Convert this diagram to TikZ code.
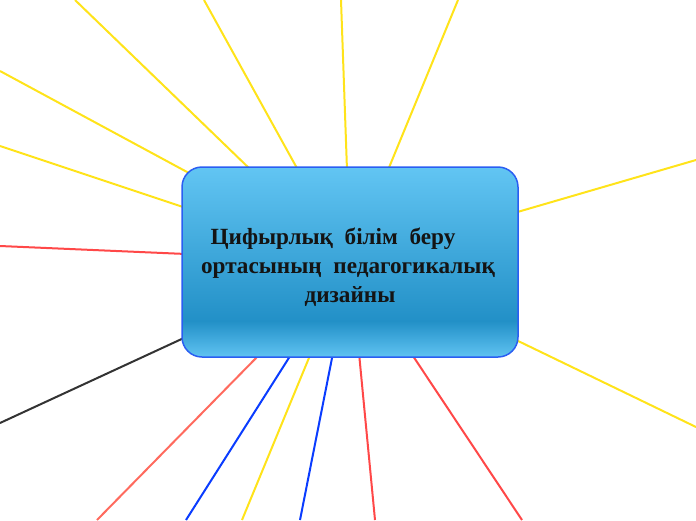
\documentclass[tikz,border=0pt]{standalone}
\usepackage{fontspec}
\setmainfont{Liberation Serif}
\usetikzlibrary{backgrounds}
\definecolor{lnyellow}{HTML}{FFE31A}
\definecolor{lnred}{HTML}{FF4848}
\definecolor{lnlightred}{HTML}{FF6A5E}
\definecolor{lnblue}{HTML}{0A3CFF}
\definecolor{lnblack}{HTML}{333333}
\definecolor{boxtop}{HTML}{62C5F3}
\definecolor{boxdark}{HTML}{2290C7}
\definecolor{boxbot}{HTML}{60C3F2}
\definecolor{boxborder}{HTML}{2A5EF2}
\pgfdeclareverticalshading{mainshade}{100bp}{color(0bp)=(boxbot); color(25bp)=(boxbot); color(34.5bp)=(boxdark); color(75bp)=(boxtop); color(100bp)=(boxtop)}
\tikzset{
  mainbox/.style={draw=boxborder, line width=1.5pt, rounded corners=20pt, shading=mainshade,
    minimum width=336pt, minimum height=190pt, inner sep=0pt},
  hubtext/.style={inner sep=0pt, align=center,
    font=\fontsize{23.2}{29}\selectfont\bfseries, text=black!92},
  branch/.style={line width=2pt}
}
\begin{document}
\begin{tikzpicture}[x=1pt,y=-1pt]
\useasboundingbox (0,0) rectangle (696,520);
\node[mainbox] (hub) at (350,262) {};
\node[hubtext] (title) at ([xshift=-2pt,yshift=-5pt]hub.center) {Цифырлық\enspace білім\enspace беру\kern30pt\\ ортасының\enspace педагогикалық\\\kern4pt дизайны};
% start points (on / just inside the box border)
\coordinate (s1) at (251,170); \coordinate (e1) at (75,0);
\coordinate (s2) at (298,170); \coordinate (e2) at (204,0);
\coordinate (s3) at (347,170); \coordinate (e3) at (341,0);
\coordinate (s4) at (388,170); \coordinate (e4) at (458,0);
\coordinate (s5) at (200,179); \coordinate (e5) at (0,71);
\coordinate (s6) at (186,208); \coordinate (e6) at (0,146);
\coordinate (s7) at (186,254); \coordinate (e7) at (0,246);
\coordinate (s8) at (186,337); \coordinate (e8) at (0,423);
\coordinate (s9) at (260,354); \coordinate (e9) at (97,520);
\coordinate (s10) at (292,353); \coordinate (e10) at (186,520);
\coordinate (s11) at (311,353); \coordinate (e11) at (242,520);
\coordinate (s12) at (333,353); \coordinate (e12) at (300,520);
\coordinate (s13) at (359,353); \coordinate (e13) at (375,520);
\coordinate (s14) at (411,353); \coordinate (e14) at (522,520);
\coordinate (s15) at (514,339); \coordinate (e15) at (696,427);
\coordinate (s16) at (514,213); \coordinate (e16) at (696,160);
\begin{scope}[on background layer]
\draw[branch, lnyellow] (s1) -- (e1);
\draw[branch, lnyellow] (s2) -- (e2);
\draw[branch, lnyellow] (s3) -- (e3);
\draw[branch, lnyellow] (s4) -- (e4);
\draw[branch, lnyellow] (s5) -- (e5);
\draw[branch, lnyellow] (s6) -- (e6);
\draw[branch, lnred] (s7) -- (e7);
\draw[branch, lnblack] (s8) -- (e8);
\draw[branch, lnlightred] (s9) -- (e9);
\draw[branch, lnblue] (s10) -- (e10);
\draw[branch, lnyellow] (s11) -- (e11);
\draw[branch, lnblue] (s12) -- (e12);
\draw[branch, lnred] (s13) -- (e13);
\draw[branch, lnred] (s14) -- (e14);
\draw[branch, lnyellow] (s15) -- (e15);
\draw[branch, lnyellow] (s16) -- (e16);
\end{scope}
\end{tikzpicture}
\end{document}
